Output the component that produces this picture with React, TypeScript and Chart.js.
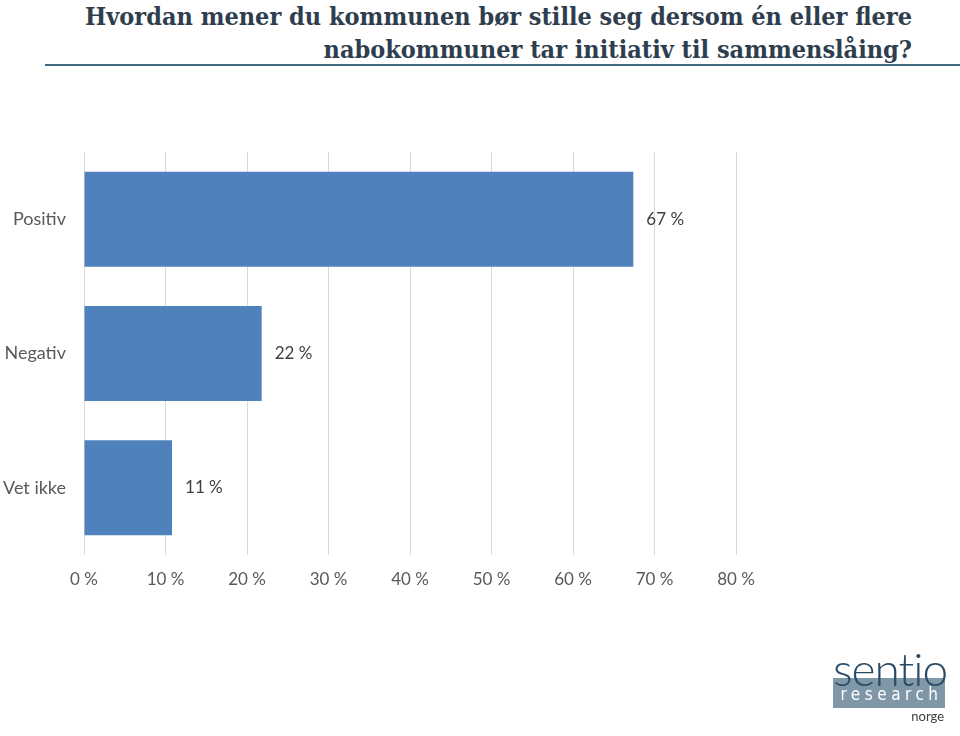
import React, { useEffect, useRef } from "react";
import { Chart, registerables } from "chart.js";

Chart.register(...registerables);

const categories = ["Positiv", "Negativ", "Vet ikke"];
const values = [67.4, 21.8, 10.8];
const valueLabels = ["67 %", "22 %", "11 %"];
const titleLines = [
  "Hvordan mener du kommunen bør stille seg dersom én eller flere",
  "nabokommuner tar initiativ til sammenslåing?",
];

const labelPlugin = {
  id: "valueLabels",
  afterDatasetsDraw(chart: any) {
    const ctx = chart.ctx;
    const meta = chart.getDatasetMeta(0);
    ctx.save();
    ctx.font = "17px Lato, 'Open Sans', sans-serif";
    ctx.fillStyle = "#404040";
    ctx.textAlign = "left";
    ctx.textBaseline = "middle";
    meta.data.forEach((bar: any, i: number) => {
      ctx.fillText(valueLabels[i], bar.x + 13, bar.y);
    });
    ctx.restore();
  },
};

export default function App() {
  const ref = useRef<HTMLCanvasElement>(null);
  useEffect(() => {
    if (!ref.current) return;
    const chart = new Chart(ref.current, {
      type: "bar",
      data: {
        labels: categories,
        datasets: [
          {
            data: values,
            backgroundColor: "#4f81bd",
            barPercentage: 0.707,
            categoryPercentage: 1,
          },
        ],
      },
      options: {
        indexAxis: "y",
        animation: false,
        responsive: false,
        maintainAspectRatio: false,
        layout: { padding: { left: 0, top: 152, right: 224, bottom: 141 } },
        plugins: { legend: { display: false }, tooltip: { enabled: false } },
        scales: {
          x: {
            min: 0,
            max: 80,
            afterFit: (s: any) => {
              s.height = 40;
            },
            ticks: {
              stepSize: 10,
              padding: 14,
              color: "#595959",
              font: { size: 17, family: "Lato, 'Open Sans', sans-serif" },
              callback: (v: any) => v + " %",
            },
            grid: { color: "#d9d9d9", drawTicks: false, lineWidth: 1 },
            border: { display: false },
          },
          y: {
            afterFit: (s: any) => {
              s.width = 84;
            },
            ticks: {
              padding: 18,
              color: "#595959",
              font: { size: 18, family: "Lato, 'Open Sans', sans-serif" },
            },
            grid: { display: false, drawTicks: false },
            border: { display: false },
          },
        },
      },
      plugins: [labelPlugin],
    });
    return () => chart.destroy();
  }, []);

  return (
    <div style={{ position: "absolute", left: 0, top: 0, width: 960, height: 736, background: "#fff", overflow: "hidden" }}>
      <div
        style={{
          position: "absolute",
          left: 0,
          top: 0,
          width: 912,
          textAlign: "right",
          fontFamily: "'DejaVu Serif Condensed', 'DejaVu Serif', serif",
          fontWeight: "bold",
          fontSize: 25,
          lineHeight: "33px",
          color: "#2f3e4e",
          whiteSpace: "nowrap",
        }}
      >
        {titleLines.map((t, i) => (
          <div key={i}>{t}</div>
        ))}
      </div>
      <div style={{ position: "absolute", left: 45, top: 64, width: 915, height: 2, background: "#3d6a80" }} />
      <canvas ref={ref} width={960} height={736} style={{ position: "absolute", left: 0, top: 0 }} />
      <div style={{ position: "absolute", left: 833, top: 678, width: 112, height: 30, background: "#8097a8" }} />
      <div
        style={{
          position: "absolute",
          left: 833,
          top: 646,
          width: 112,
          textAlign: "center",
          fontFamily: "Lato, sans-serif",
          fontWeight: 300,
          fontSize: 46,
          lineHeight: "46px",
          color: "#2a4a66",
          letterSpacing: -1,
        }}
      >
        sentio
      </div>
      <div
        style={{
          position: "absolute",
          left: 833,
          top: 684,
          width: 112,
          paddingLeft: 5,
          boxSizing: "border-box",
          textAlign: "center",
          fontFamily: "'DejaVu Sans Condensed', sans-serif",
          fontSize: 17,
          lineHeight: "20px",
          color: "#ffffff",
          letterSpacing: 4.5,
        }}
      >
        research
      </div>
      <div
        style={{
          position: "absolute",
          left: 900,
          top: 708,
          width: 44,
          textAlign: "right",
          fontFamily: "Lato, sans-serif",
          fontSize: 13,
          lineHeight: "16px",
          color: "#404040",
        }}
      >
        norge
      </div>
    </div>
  );
}
